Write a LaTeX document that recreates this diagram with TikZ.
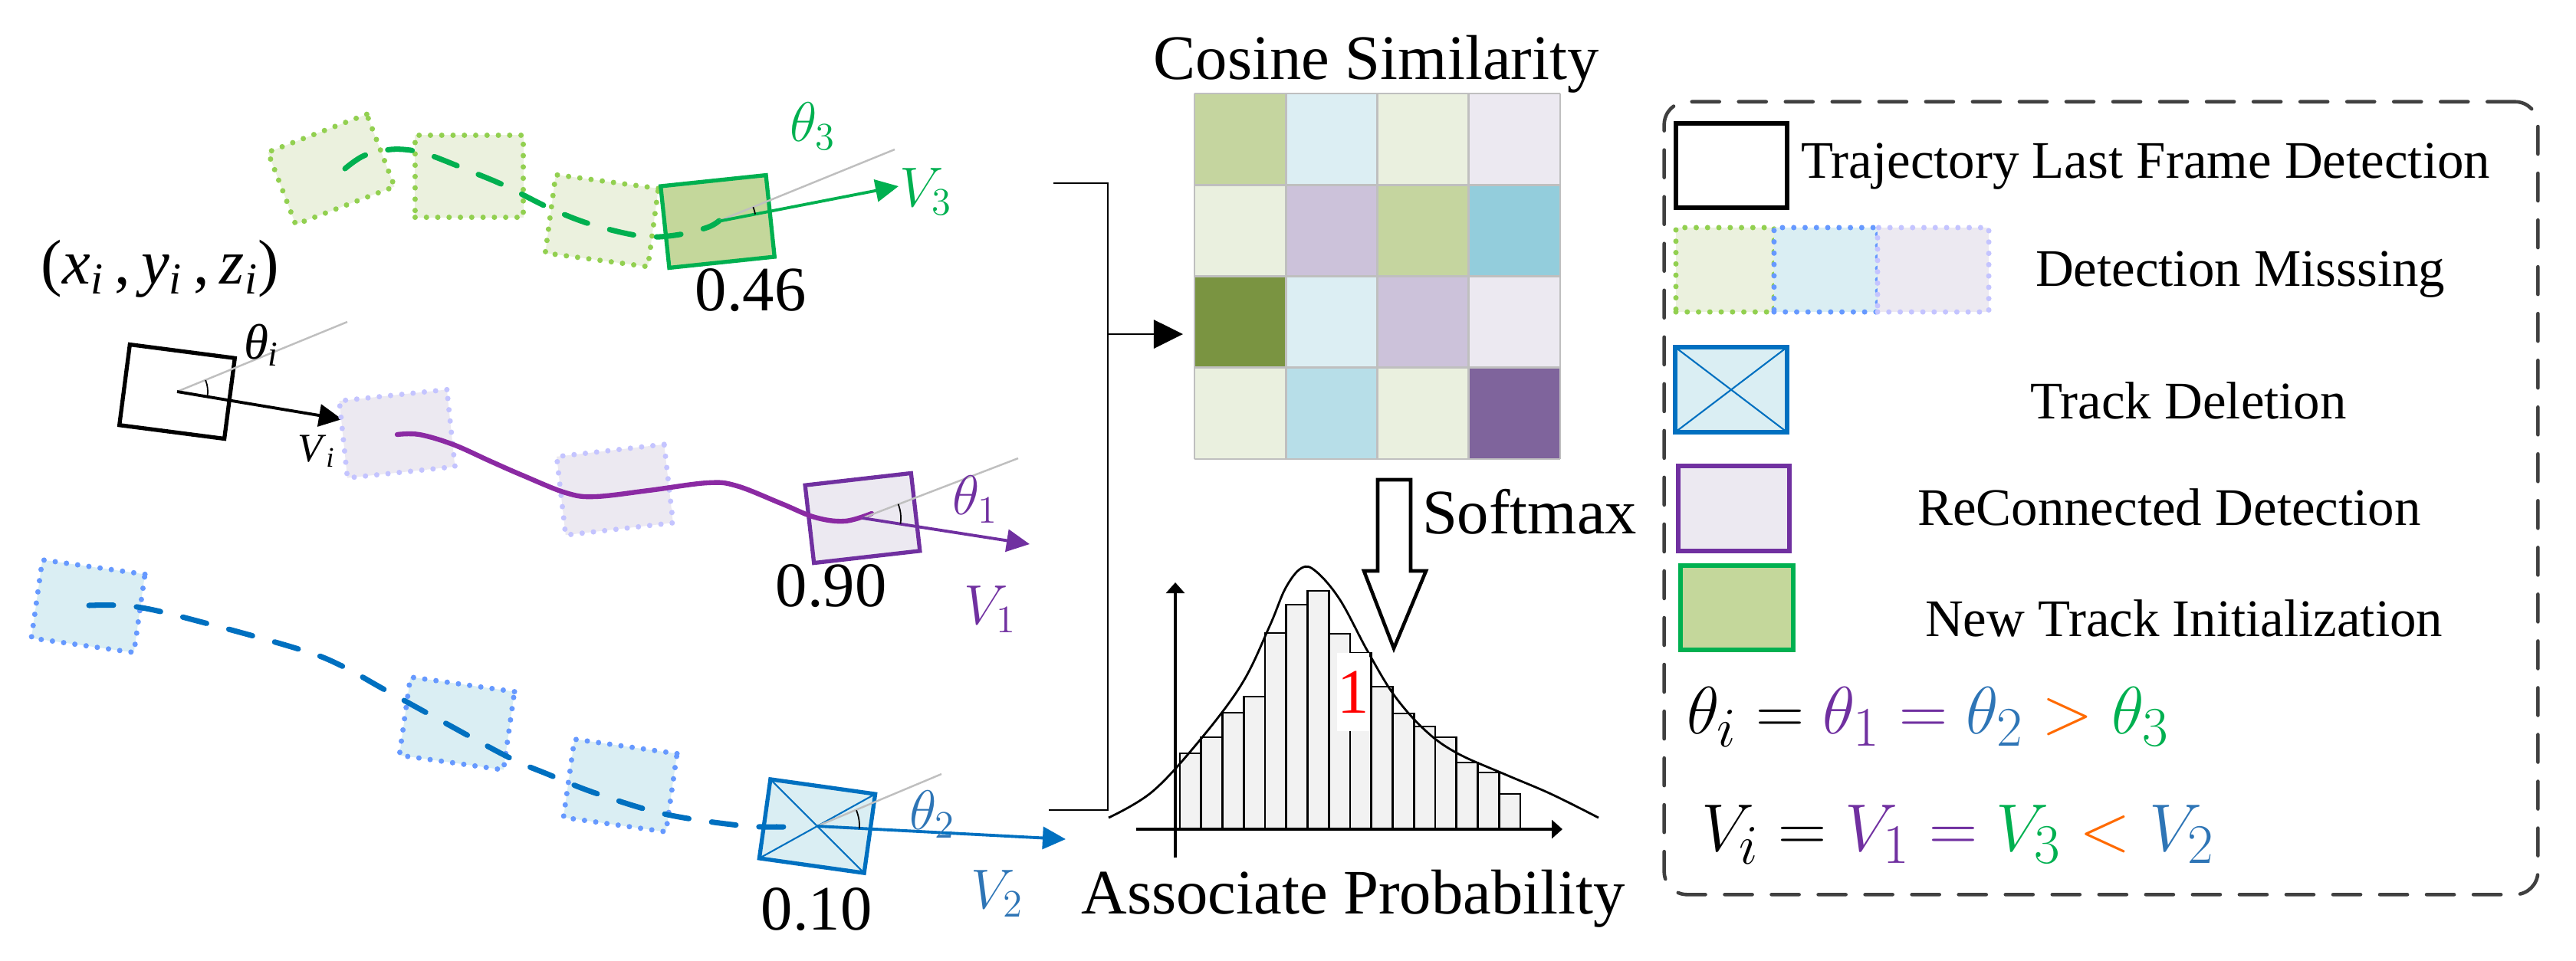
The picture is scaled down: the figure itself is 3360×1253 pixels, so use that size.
\documentclass[tikz,border=0pt]{standalone}
\usepackage{fontspec}
\setmainfont{Liberation Serif}
\usepackage{graphicx}
\usetikzlibrary{arrows.meta,calc}
\definecolor{gDark}{HTML}{00B050}
\definecolor{gDot}{HTML}{92D050}
\definecolor{gFill}{HTML}{EBF1DE}
\definecolor{gSolid}{HTML}{C4D79B}
\definecolor{bDark}{HTML}{0070C0}
\definecolor{bDot}{HTML}{6699FF}
\definecolor{bFill}{HTML}{DAEEF3}
\definecolor{lDot}{HTML}{C4C4FF}
\definecolor{lFill}{HTML}{ECE9F1}
\definecolor{pDark}{HTML}{7030A0}
\definecolor{pCurve}{HTML}{8B2AA3}
\definecolor{eqBlue}{HTML}{2E75B6}
\definecolor{eqOrange}{HTML}{FF6A00}
\definecolor{greyLine}{HTML}{BFBFBF}
\definecolor{legEdge}{HTML}{404040}
\definecolor{mA}{HTML}{C5D59F}
\definecolor{mB}{HTML}{DCEEF3}
\definecolor{mC}{HTML}{EAF0DF}
\definecolor{mD}{HTML}{ECE9F1}
\definecolor{mE}{HTML}{CCC2DA}
\definecolor{mF}{HTML}{93CDDC}
\definecolor{mG}{HTML}{7A9441}
\definecolor{mH}{HTML}{B7DEE8}
\definecolor{mI}{HTML}{7F649C}
\newcommand{\fbig}{\fontsize{23.5pt}{28pt}\selectfont}
\newcommand{\fleg}{\fontsize{19.6pt}{24pt}\selectfont}
\newcommand{\flab}{\fontsize{22pt}{26pt}\selectfont}
\newcommand{\feq}{\fontsize{28pt}{32pt}\selectfont}
\tikzset{
  dotbox/.style={rectangle, line width=2pt, dash pattern=on 0pt off 4.2pt, line cap=round, inner sep=0pt, outer sep=0pt},
  gdot/.style={dotbox, draw=gDot, fill=gFill},
  bdot/.style={dotbox, draw=bDot, fill=bFill},
  ldot/.style={dotbox, draw=lDot, fill=lFill},
  solidbox/.style={rectangle, line width=1.5pt, inner sep=0pt, outer sep=0pt},
  trackdash/.style={line width=2pt, dash pattern=on 0.32cm off 0.3cm, line cap=round},
  greyl/.style={draw=greyLine, line width=0.7pt},
  vel/.style={line width=1.1pt, -{Triangle[length=0.3cm,width=0.29cm]}},
  anglemark/.style={black, line width=0.5pt},
  txt/.style={inner sep=0pt, outer sep=0pt},
  bar/.style={draw=black, fill=black!5, line width=0.8pt},
  legtext/.style={txt, anchor=base west, font=\fleg},
}
\begin{document}
\begin{tikzpicture}[x=0.01cm, y=-0.01cm]
\useasboundingbox (0,0) rectangle (3360,1253);

% ---------------- green track ----------------
\node[gdot, minimum width=1.38cm, minimum height=1.01cm, rotate=21] (g1) at (432,221) {};
\node[gdot, minimum width=1.41cm, minimum height=1.07cm] (g2) at (612,230) {};
\node[gdot, minimum width=1.35cm, minimum height=1.03cm, rotate=-7.6] (g3) at (785,288) {};
\node[solidbox, draw=gDark, fill=gSolid, minimum width=1.38cm, minimum height=1.07cm, rotate=6] (g4) at (936,289) {};
\draw[trackdash, gDark] plot[smooth, tension=0.6] coordinates {(450,220) (475,203) (510,195) (542,197) (568,205) (620,226) (660,243) (718,272) (772,293) (836,308) (880,307) (922,297) (938,288)};
\coordinate (g4g) at (1167,195);
\coordinate (g4v) at (1172,243);
\draw[greyl] (g4.center) -- (g4g);
\draw[vel, gDark] (g4.center) -- (g4v);
\draw[anglemark] ($(g4.center)+(10.9:0.5cm)$) arc[start angle=10.9, end angle=22, radius=0.5cm];
\node[txt, text=gDark, font=\flab] (th3) at (1060,165) {$\theta_3$};
\node[txt, text=gDark, font=\flab] (v3) at (1208,250) {$V_3$};
\node[txt, font=\fbig] (n46) at (979,379) {0.46};

% ---------------- last frame (black) ----------------
\node[txt, anchor=base west, font=\fbig] (pos) at (54,370) {(\textit{x}\textsubscript{\textit{i}}\,,\,\textit{y}\textsubscript{\textit{i}}\,,\,\textit{z}\textsubscript{\textit{i}})};
\node[solidbox, draw=black, minimum width=1.38cm, minimum height=1.06cm, rotate=-7.4] (k) at (231,511) {};
\coordinate (kg) at (453,420);
\coordinate (kv) at (446,547);
\draw[greyl] (k.center) -- (kg);
\draw[vel, black] (k.center) -- (kv);
\draw[anglemark] ($(k.center)+(-9.8:0.4cm)$) arc[start angle=-9.8, end angle=22, radius=0.4cm];
\node[txt, anchor=base west, font=\fontsize{18.5pt}{22pt}\selectfont] (thi) at (318,468) {\textit{θ}\textsubscript{\textit{i}}};
\node[txt, anchor=base west, font=\fontsize{15pt}{18pt}\selectfont] (vi) at (388,602) {\textit{V}\textsubscript{\textit{i}}};

% ---------------- purple track ----------------
\node[ldot, minimum width=1.41cm, minimum height=1.01cm, rotate=6] (l1) at (518,566) {};
\node[ldot, minimum width=1.41cm, minimum height=1.03cm, rotate=6.5] (l2) at (802,639) {};
\node[solidbox, draw=pDark, fill=lFill, minimum width=1.39cm, minimum height=1.02cm, rotate=6.5] (p) at (1125,676) {};
\draw[pCurve, line width=1.8pt, line cap=round] plot[smooth, tension=0.6] coordinates {(518,567) (547,567) (591,580) (640,602) (681,620) (738,643) (776,648) (846,640) (923,630) (961,634) (1019,657) (1063,675) (1102,680) (1137,670)};
\coordinate (pg) at (1328,598);
\coordinate (pv) at (1343,710);
\draw[greyl] (p.center) -- (pg);
\draw[vel, pDark] (p.center) -- (pv);
\draw[anglemark] ($(p.center)+(-8.8:0.5cm)$) arc[start angle=-8.8, end angle=21.4, radius=0.5cm];
\node[txt, text=pDark, font=\flab] (th1) at (1272,652) {$\theta_1$};
\node[txt, text=pDark, font=\flab] (v1) at (1292,795) {$V_1$};
\node[txt, font=\fbig] (n90) at (1084,765) {0.90};

% ---------------- blue track ----------------
\node[bdot, minimum width=1.35cm, minimum height=1.03cm, rotate=-8] (b1) at (115,791) {};
\node[bdot, minimum width=1.37cm, minimum height=1.03cm, rotate=-8] (b2) at (596,944) {};
\node[bdot, minimum width=1.35cm, minimum height=1.03cm, rotate=-8] (b3) at (809,1025) {};
\node[solidbox, draw=bDark, fill=bFill, minimum width=1.38cm, minimum height=1.04cm, rotate=-8] (bx) at (1066,1078) {};
\draw[bDark, line width=0.6pt] (bx.north west) -- (bx.south east) (bx.north east) -- (bx.south west);
\draw[trackdash, bDark] plot[smooth, tension=0.6] coordinates {(116,790) (179,792) (268,813) (393,848) (446,869) (500,899) (580,943) (665,989) (714,1010) (777,1035) (866,1062) (964,1077) (1018,1079) (1050,1078)};
\coordinate (bg) at (1228,1010);
\coordinate (bv) at (1390,1095);
\draw[greyl] (bx.center) -- (bg);
\draw[vel, bDark] (bx.center) -- (bv);
\draw[anglemark] ($(bx.center)+(-3.2:0.55cm)$) arc[start angle=-3.2, end angle=22, radius=0.55cm];
\node[txt, text=eqBlue, font=\flab] (th2) at (1216,1063) {$\theta_2$};
\node[txt, text=eqBlue, font=\flab] (v2) at (1301,1166) {$V_2$};
\node[txt, font=\fbig] (n10) at (1065,1187) {0.10};

% ---------------- bracket to matrix ----------------
\coordinate (bt0) at (1374,239);
\coordinate (bt1) at (1445,239);
\coordinate (bb1) at (1445,1057);
\coordinate (bb0) at (1368,1057);
\coordinate (bm) at (1445,436);
\coordinate (ma) at (1543,436);
\draw[line width=0.8pt] (bt0) -- (bt1) -- (bb1) -- (bb0);
\draw[line width=0.8pt, -{Triangle[length=0.38cm,width=0.37cm]}] (bm) -- (ma);

% ---------------- cosine similarity matrix ----------------
\node[txt, anchor=base, font=\fbig] (cos) at (1795,103) {Cosine Similarity};
\foreach \cols [count=\i from 0] in {{mA,mB,mC,mD},{mC,mE,mA,mF},{mG,mB,mE,mD},{mC,mH,mC,mI}} {
  \foreach \cc [count=\j from 0] in \cols {
    \fill[\cc] (1558+119.25*\j,122+119.25*\i) rectangle ++(119.25,119.25);
  }
}
\foreach \k in {0,1,2,3,4} {
  \draw[greyLine, line width=0.8pt] (1558+119.25*\k,122) -- (1558+119.25*\k,599);
  \draw[greyLine, line width=0.8pt] (1558,122+119.25*\k) -- (2035,122+119.25*\k);
}
\node[txt, minimum width=4.77cm, minimum height=4.77cm] (mat) at (1796.5,360.5) {};

% ---------------- softmax arrow ----------------
\draw[line width=1.3pt, fill=white] (1797,626) -- (1840,626) -- (1840,745) -- (1860,745) -- (1818,846) -- (1779,745) -- (1797,745) -- cycle;
\node[txt, anchor=base west, font=\fbig] (soft) at (1855,696) {Softmax};

% ---------------- histogram ----------------
\foreach \t [count=\k from 0] in {983,962,930,909,826,789,771,827,852,896,931,948,962,995,1008,1036} {
  \draw[bar] (1539+27.75*\k,1082) rectangle (1566.75+27.75*\k,\t);
}
\coordinate (ya0) at (1533,1119);
\coordinate (ya1) at (1533,760);
\coordinate (xa0) at (1482,1082);
\coordinate (xa1) at (2038,1082);
\draw[line width=0.9pt, -{Triangle[length=0.14cm,width=0.24cm]}] (ya0) -- (ya1);
\draw[line width=0.9pt, -{Triangle[length=0.14cm,width=0.24cm]}] (xa0) -- (xa1);
\draw[line width=0.8pt] plot[smooth, tension=0.6] coordinates {(1446,1067) (1503,1033) (1564,967) (1620,892) (1656,817) (1677,767) (1698,741) (1717,746) (1748,783) (1784,850) (1819,908) (1860,954) (1901,983) (1962,1010) (2023,1036) (2085,1067)};
\node[txt, fill=white, minimum width=0.42cm, minimum height=1.01cm, font=\fbig, text=red] (one) at (1765,903) {1};
\node[txt, anchor=base, font=\fbig] (assoc) at (1765,1192) {Associate Probability};

% ---------------- legend ----------------
\node[draw=legEdge, line width=1.3pt, dash pattern=on 0.36cm off 0.25cm, line cap=round, rounded corners=0.3cm, minimum width=11.39cm, minimum height=10.34cm, inner sep=0pt] (legend) at (2740.5,650) {};
\node[solidbox, draw=black, minimum width=1.45cm, minimum height=1.10cm] (lk) at (2258.5,216) {};
\node[legtext] (lkt) at (2349,232) {Trajectory Last Frame Detection};
\node[gdot, minimum width=1.28cm, minimum height=1.10cm] (lg) at (2250,352) {};
\node[bdot, minimum width=1.35cm, minimum height=1.10cm] (lb) at (2381.5,352) {};
\node[ldot, minimum width=1.45cm, minimum height=1.10cm] (ll) at (2521.5,352) {};
\node[legtext] (lmt) at (2655,373) {Detection Misssing};
\node[solidbox, draw=bDark, fill=bFill, minimum width=1.46cm, minimum height=1.11cm] (lx) at (2258,508.5) {};
\draw[bDark, line width=0.6pt] (lx.north west) -- (lx.south east) (lx.north east) -- (lx.south west);
\node[legtext] (lxt) at (2648,546) {Track Deletion};
\node[solidbox, draw=pDark, fill=lFill, minimum width=1.45cm, minimum height=1.11cm] (lp) at (2261.5,663.5) {};
\node[legtext] (lpt) at (2501,685) {ReConnected Detection};
\node[solidbox, draw=gDark, fill=gSolid, minimum width=1.47cm, minimum height=1.10cm] (ln) at (2265.5,793) {};
\node[legtext] (lnt) at (2511,830) {New Track Initialization};
\node[txt, anchor=base west, font=\feq] (eq1) at (2200,957) {$\theta_i = {\color{pDark}\theta_1} \mathrel{\color{pDark}=} {\color{eqBlue}\theta_2} \mathrel{\color{eqOrange}>} {\color{gDark}\theta_3}$};
\node[txt, anchor=base west, font=\feq] (eq2) at (2219,1110) {$V_i = {\color{pDark}V_1} \mathrel{\color{pDark}=} {\color{gDark}V_3} \mathrel{\color{eqOrange}<} {\color{eqBlue}V_2}$};
\end{tikzpicture}
\end{document}
